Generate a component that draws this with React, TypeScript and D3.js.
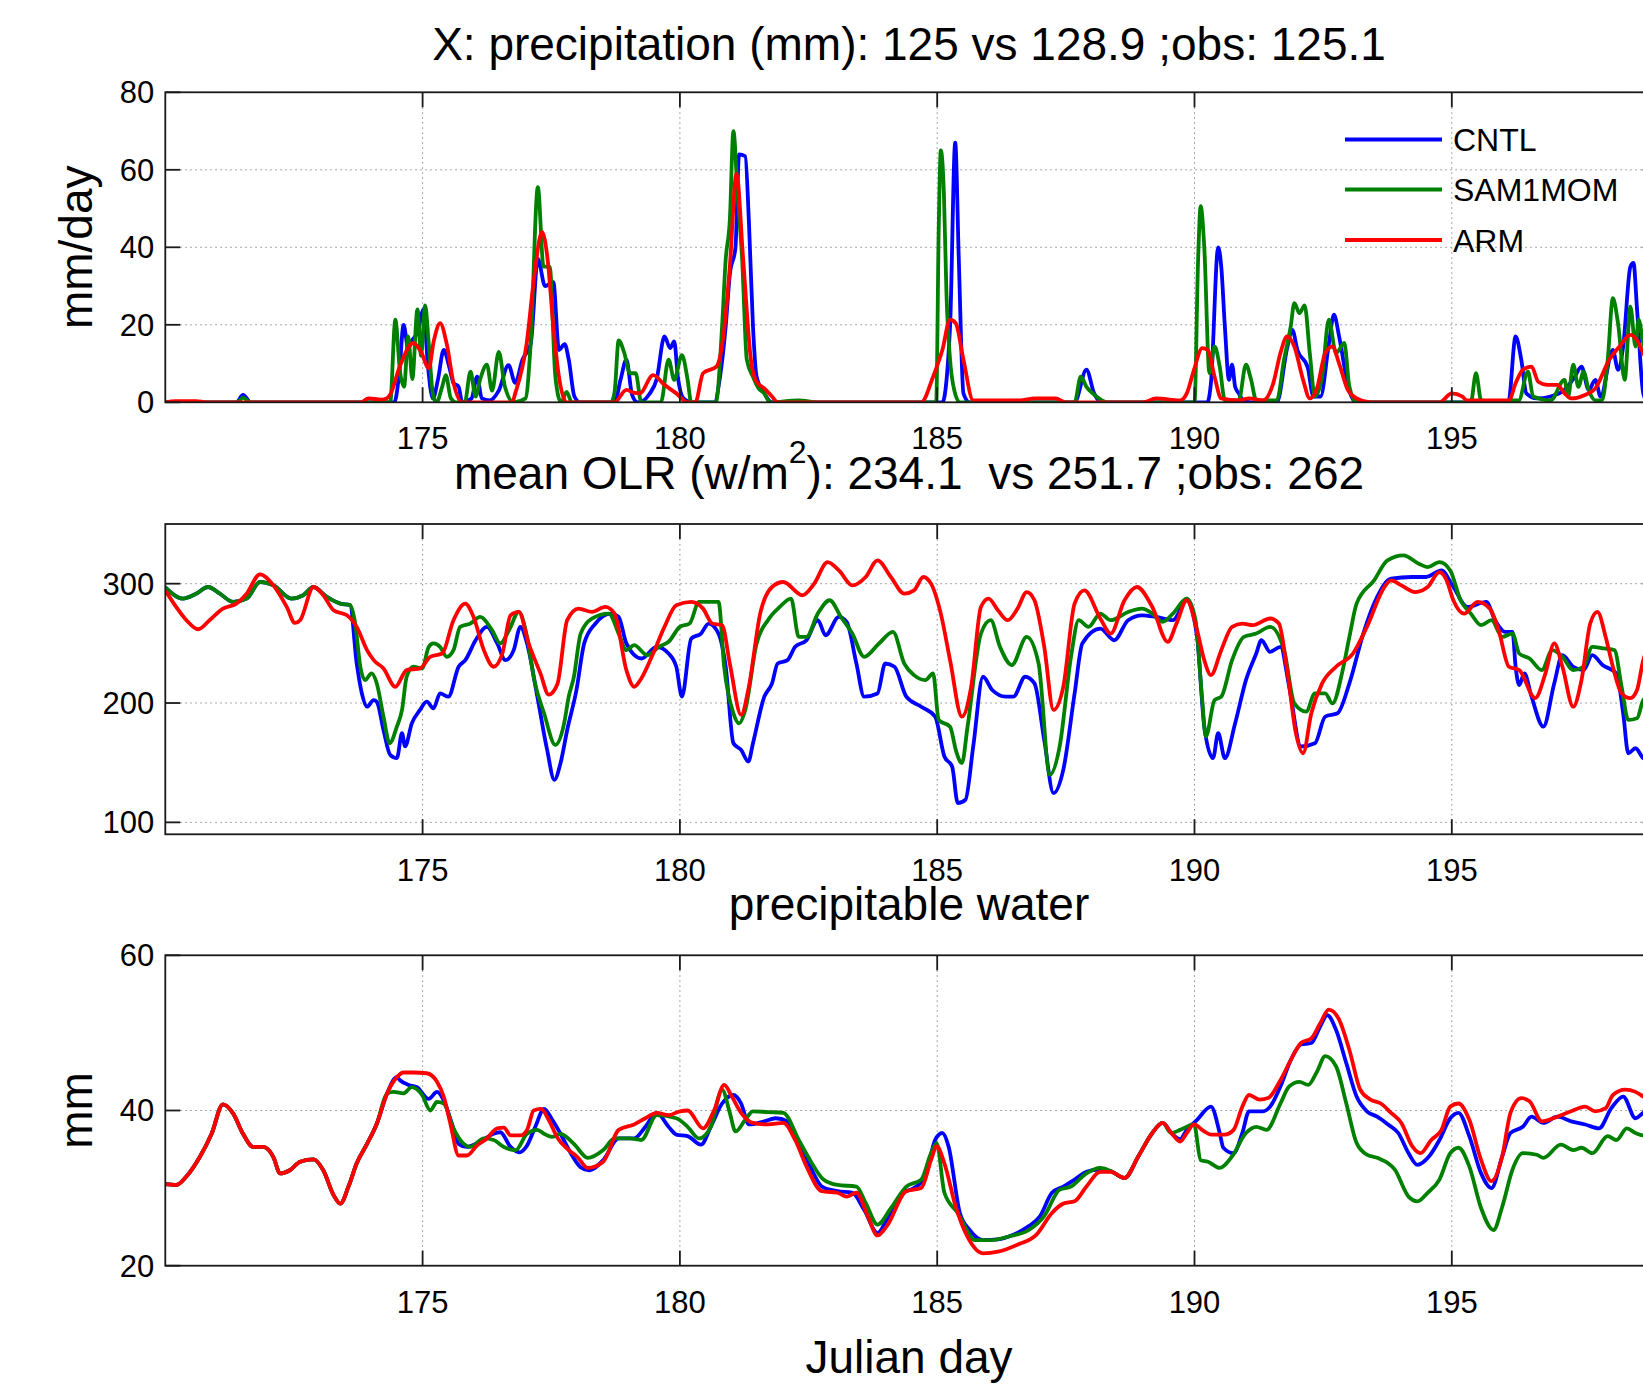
import * as d3 from 'd3';

type Pt = [number, number];

const xTicks = [175, 180, 185, 190, 195];
const precipTicks = [0, 20, 40, 60, 80];
const olrTicks = [100, 200, 300];
const pwTicks = [20, 40, 60];
const seriesNames = ['CNTL', 'SAM1MOM', 'ARM'];

// precipitation, mm/day
const precipCntl: Pt[] = [[170,0],[171.38,0],[171.51,1.9],[171.66,0],[174.45,0],[174.55,8],[174.63,20],[174.72,14],[174.8,16],[174.9,18],[175.02,24],[175.1,10],[175.2,1],[175.3,6],[175.41,13.5],[175.52,9],[175.6,5],[175.7,4],[175.77,0],[175.95,1],[176.06,6.6],[176.15,1],[176.3,0.5],[176.48,3],[176.67,9.6],[176.8,5],[176.94,11],[177.1,15],[177.24,37],[177.38,30],[177.54,31],[177.65,13.5],[177.76,15],[177.84,11],[177.95,1.5],[178.06,0],[178.73,0],[178.85,6],[178.96,11],[179.07,2],[179.18,0],[179.3,0.5],[179.4,2],[179.55,6],[179.7,17],[179.81,14],[179.89,15.7],[179.96,6.6],[180.07,1],[180.22,0],[180.67,0],[180.78,6.6],[180.89,19.6],[180.97,33],[181.08,40],[181.15,64],[181.27,63.5],[181.34,47],[181.42,19.6],[181.49,6.6],[181.64,2.3],[181.79,0],[185.1,0],[185.25,19.6],[185.35,67],[185.42,36.8],[185.51,2.3],[185.63,0],[187.67,0],[187.9,8.4],[188.05,2.3],[188.2,0],[190.25,0],[190.32,5],[190.46,40],[190.52,35],[190.59,19.6],[190.67,5.8],[190.73,9.7],[190.79,4],[190.86,2.3],[190.95,0.5],[191.1,0],[191.6,0],[191.8,14],[191.9,18.7],[192.0,13.5],[192.2,9],[192.31,1.5],[192.45,1.5],[192.61,15],[192.71,22.6],[192.81,17],[192.95,6.6],[193.05,1.5],[193.15,0],[196.1,0],[196.24,17],[196.35,11],[196.45,2.3],[196.65,1],[196.92,1.5],[197.19,3.2],[197.39,6.6],[197.52,9.2],[197.66,3.2],[197.79,5.8],[197.89,1.5],[198.13,13.5],[198.23,8.4],[198.33,14.4],[198.47,35],[198.53,36],[198.6,24],[198.72,2.3],[198.8,0]];
const precipSam: Pt[] = [[170,0],[171.4,0],[171.51,1.2],[171.65,0],[174.37,0],[174.47,21.3],[174.56,8],[174.64,4],[174.72,17],[174.8,6],[174.9,24],[174.97,12],[175.05,25],[175.12,15],[175.2,2],[175.27,0],[175.38,4],[175.45,7],[175.55,1],[175.65,0],[175.82,0],[175.93,7.9],[176.03,1.5],[176.12,6],[176.25,9.7],[176.35,3],[176.48,13],[176.6,4],[176.77,0],[177.0,1],[177.1,15],[177.24,55.5],[177.35,35],[177.47,35],[177.58,6.6],[177.69,0],[177.8,2.7],[177.9,0],[178.66,0],[178.73,2.6],[178.81,16],[178.92,12.7],[179.03,7.5],[179.14,7.5],[179.25,0],[179.63,0],[179.78,11],[179.89,5.8],[180.04,12.2],[180.15,5.8],[180.22,0],[180.7,0],[180.82,19.6],[180.89,36.8],[180.97,47],[181.04,70],[181.12,54],[181.21,36.8],[181.3,11],[181.42,6.6],[181.53,3.6],[181.64,2.3],[181.75,0],[182.3,0.5],[182.7,0],[184.98,0],[185.03,45],[185.07,65],[185.13,54],[185.18,28],[185.25,11],[185.33,3.2],[185.44,0],[187.67,0],[187.79,6.6],[187.9,4],[188.05,2],[188.2,0.5],[188.3,0],[190.0,0],[190.07,36.8],[190.12,50.6],[190.19,40],[190.29,7.5],[190.39,14.4],[190.49,9.2],[190.59,0.5],[190.86,0.5],[191.0,9.7],[191.1,5.8],[191.2,0.5],[191.6,0.5],[191.74,11],[191.87,19.6],[191.94,25.6],[192.04,23],[192.14,25],[192.24,12.7],[192.34,1.5],[192.48,6.6],[192.61,21.3],[192.75,12.7],[192.91,15.3],[193.01,4],[193.15,0],[195.37,0],[195.47,7.5],[195.57,0.5],[196.04,0],[196.14,0.5],[196.3,0.5],[196.48,7.9],[196.58,1.5],[196.92,0.5],[197.19,5.8],[197.26,1.5],[197.36,9.7],[197.46,4],[197.56,7.9],[197.66,3.2],[197.79,0.5],[197.92,0.5],[198.03,11],[198.13,26.9],[198.23,20.4],[198.36,5.8],[198.47,24.7],[198.57,14.4],[198.63,21.3],[198.72,15.3],[198.8,12]];
const precipArm: Pt[] = [[170,0],[170.2,0.3],[170.6,0.3],[170.8,0],[173.8,0],[173.95,1],[174.2,0.7],[174.3,1],[174.37,2],[174.55,9],[174.82,15.3],[174.97,13],[175.12,8.8],[175.22,16],[175.34,20.4],[175.47,15],[175.6,5],[175.77,0],[176.74,0],[176.8,2.3],[177.02,15],[177.17,32.5],[177.32,44],[177.43,36.8],[177.54,19.6],[177.65,6.6],[177.8,0],[178.73,0],[178.96,3.2],[179.1,2.5],[179.22,2.3],[179.48,7],[179.7,4.5],[179.93,2.3],[180.15,0],[180.3,0],[180.45,7.5],[180.71,9.2],[180.86,18.7],[180.97,35],[181.1,59],[181.23,36.8],[181.38,11],[181.49,5.3],[181.64,3.6],[181.79,1.5],[181.9,0],[184.69,0],[184.92,6.6],[185.1,13.5],[185.25,21.3],[185.36,20.4],[185.51,11],[185.7,0.5],[186.6,0.5],[186.9,1],[187.3,1],[187.5,0],[189.0,0],[189.25,1],[189.72,0.5],[189.85,2.3],[189.99,8.4],[190.15,14],[190.26,13.5],[190.39,6.6],[190.52,1],[190.86,0.5],[191.06,1],[191.33,0.5],[191.53,4.9],[191.67,12.7],[191.8,17],[191.94,14.4],[192.11,5.8],[192.24,1],[192.38,3.6],[192.54,12.7],[192.68,14.4],[192.81,10],[192.98,3.2],[193.15,1],[193.42,0],[194.76,0],[195.0,2.3],[195.2,1.5],[195.3,0.5],[196.11,0.5],[196.24,4.9],[196.38,8.4],[196.55,9.2],[196.68,5.3],[196.85,4.5],[197.05,4.5],[197.19,2.3],[197.32,1],[197.59,1.9],[197.79,3.6],[198.06,11],[198.26,14.4],[198.47,17.4],[198.6,16],[198.72,12.7],[198.8,11]];

// OLR, w/m2 (both model runs start from the same state)
const olrModelStart: Pt[] = [[170,297],[170.34,287.5],[170.6,291.6],[170.83,297.2],[171.06,291.6],[171.32,284.7],[171.58,287.5],[171.84,301.4],[172.1,298.6],[172.45,287.5],[172.68,290.3],[172.88,297.2],[173.14,288.9],[173.4,283.3],[173.59,282]];
const olrCntl: Pt[] = [...olrModelStart,[173.72,233.1],[173.82,208],[173.92,196.9],[174.05,202.5],[174.11,201.1],[174.24,177.4],[174.37,156.5],[174.5,153.8],[174.6,174.7],[174.66,163.6],[174.79,183],[174.95,194.2],[175.08,201.1],[175.21,195.5],[175.34,208],[175.5,205.3],[175.7,230.4],[175.83,235.9],[176.03,252.6],[176.25,263.8],[176.45,249.9],[176.61,235.9],[176.77,244.3],[176.9,263.8],[177.03,249.9],[177.23,205.3],[177.42,160.7],[177.56,135.6],[177.68,149.6],[177.81,177.4],[177.99,210.9],[178.14,249.9],[178.36,266.6],[178.66,274.9],[178.81,272.1],[178.96,249.9],[179.25,237.3],[179.55,247.1],[179.78,241.5],[179.93,230.4],[180.04,205.3],[180.22,254],[180.41,258.2],[180.56,266.6],[180.75,258.2],[180.89,230.4],[181.04,166.3],[181.19,160.7],[181.33,151],[181.42,166.3],[181.64,205.3],[181.79,216.4],[181.9,233.1],[182.09,235.9],[182.24,247.1],[182.46,252.6],[182.68,269.4],[182.83,256.8],[183.09,272.1],[183.24,268],[183.43,233.1],[183.58,205.3],[183.84,208],[183.99,233.1],[184.17,230.4],[184.4,205.3],[184.69,196.9],[184.96,188.6],[185.14,155.2],[185.29,146.8],[185.4,116.2],[185.55,119],[185.7,163.6],[185.89,222],[186.07,210.9],[186.33,205.3],[186.48,205.3],[186.71,222],[186.89,216.4],[187.08,169.1],[187.26,124.5],[187.45,144],[187.67,208],[187.82,249.9],[188.17,262.4],[188.44,252.6],[188.71,269.4],[188.98,273.5],[189.25,272.1],[189.58,269.4],[189.85,286.1],[190.05,255.4],[190.19,180.2],[190.36,153.8],[190.46,174.7],[190.59,153.8],[190.79,183],[191.0,219.2],[191.2,241.5],[191.3,252.6],[191.47,242.9],[191.67,247.1],[191.84,213.6],[192.07,163.6],[192.34,166.3],[192.54,188.6],[192.78,191.4],[193.01,216.4],[193.28,258.2],[193.55,288.9],[193.82,304.2],[194.23,305.6],[194.5,305.6],[194.8,311.1],[195.03,297.2],[195.3,280.5],[195.67,284.7],[195.84,269.4],[196.04,259.6],[196.18,259.6],[196.24,230.4],[196.31,215],[196.41,224.8],[196.55,205.3],[196.78,180.2],[196.99,216.4],[197.15,240.1],[197.36,230.4],[197.56,227.6],[197.73,240.1],[197.93,231.8],[198.2,224.8],[198.33,191.4],[198.43,157.9],[198.57,162.1],[198.72,153.8],[198.8,152]];
const olrSam: Pt[] = [...olrModelStart,[173.69,266.6],[173.79,230.4],[173.88,219.2],[174.01,224.8],[174.11,216.4],[174.24,188.6],[174.36,166.3],[174.5,180.2],[174.6,194.2],[174.69,222],[174.82,230.4],[174.99,229],[175.12,247.1],[175.21,249.9],[175.34,247.1],[175.47,238.7],[175.6,244.3],[175.73,263.8],[175.93,266.6],[176.12,272.1],[176.35,261],[176.51,249.9],[176.68,261],[176.87,276.3],[177.03,255.4],[177.17,219.2],[177.36,191.4],[177.58,164.9],[177.75,183],[177.84,205.3],[177.94,222],[178.07,258],[178.29,270.8],[178.62,274.9],[178.81,258.2],[178.96,244.3],[179.11,248.5],[179.37,240.1],[179.59,247.1],[179.78,251.3],[180.0,263.8],[180.19,266.6],[180.37,284.7],[180.75,284.7],[180.86,230.4],[181.04,191.4],[181.15,183],[181.27,194.2],[181.49,249.9],[181.71,269.4],[181.94,280.5],[182.16,287.5],[182.31,255.4],[182.46,255.4],[182.68,274.9],[182.91,286.1],[183.13,272.1],[183.35,258.2],[183.58,238.7],[183.87,249.9],[184.14,259.6],[184.36,233.1],[184.55,223.4],[184.77,219.2],[184.92,224.8],[185.03,185.8],[185.25,180.2],[185.37,159.3],[185.48,149.6],[185.59,180.2],[185.85,258.2],[186.04,269.4],[186.22,247.1],[186.45,231.8],[186.74,255.4],[186.97,233.1],[187.19,139.8],[187.38,163.6],[187.6,238.7],[187.75,269.4],[187.94,263.8],[188.17,274.9],[188.37,269.4],[188.71,276.3],[188.98,279.1],[189.18,274.9],[189.38,268],[189.58,274.9],[189.85,287.5],[190.02,269.4],[190.15,202.5],[190.22,171.9],[190.39,202.5],[190.52,205.3],[190.73,235.9],[190.96,255.4],[191.2,258.2],[191.47,263.8],[191.74,244.3],[191.94,199.7],[192.17,192.8],[192.34,208],[192.54,208],[192.68,199.7],[192.88,227.6],[193.01,255.4],[193.15,283.3],[193.49,302.8],[193.75,319.5],[194.06,323.7],[194.36,316.7],[194.53,313.9],[194.76,318.1],[194.97,311.1],[195.17,286.1],[195.37,274.9],[195.57,265.2],[195.77,269.4],[195.98,255.4],[196.18,258.2],[196.31,241.5],[196.51,237.3],[196.75,227.6],[196.95,244.3],[197.15,238.7],[197.36,227.6],[197.56,230.4],[197.73,247.1],[197.96,245.7],[198.16,244.3],[198.3,213.6],[198.43,185.8],[198.6,187.2],[198.72,202.5],[198.8,205]];
const olrArm: Pt[] = [[170,294.4],[170.21,280.5],[170.41,269.4],[170.64,261.8],[170.86,269.4],[171.12,279.1],[171.38,283.3],[171.58,291.6],[171.84,307.8],[172.1,298.6],[172.36,280.5],[172.52,267.1],[172.62,269.4],[172.88,297.2],[173.07,290.3],[173.27,277.7],[173.53,273.5],[173.72,263.8],[173.92,244.3],[174.05,235.9],[174.24,229],[174.47,213.6],[174.69,227.6],[174.95,229],[175.15,238.7],[175.38,241.5],[175.6,269.4],[175.83,283.3],[175.99,272.1],[176.19,244.3],[176.38,230.4],[176.55,241.5],[176.71,273.5],[176.87,276.3],[177.06,250],[177.29,224.8],[177.45,207],[177.62,216],[177.81,269.4],[178.03,279.1],[178.29,276.3],[178.55,280.5],[178.73,274.9],[178.96,227.6],[179.11,213.6],[179.25,220.6],[179.48,241.5],[179.7,263.8],[179.93,281.9],[180.22,284.7],[180.45,279.1],[180.63,266.6],[180.82,265.2],[180.97,233.1],[181.19,190],[181.34,213.6],[181.56,274.9],[181.79,297.2],[182.01,301.4],[182.38,290.3],[182.61,300],[182.87,318.1],[183.09,311.1],[183.35,298.6],[183.61,305.6],[183.84,319.5],[184.1,305.6],[184.36,291.6],[184.55,294.4],[184.73,305.6],[184.88,300],[185.07,274.9],[185.25,235.9],[185.48,188.6],[185.66,213.6],[185.85,280.5],[186.0,287.5],[186.18,277.7],[186.37,269.4],[186.56,279.1],[186.74,293],[186.89,286.1],[187.08,247.1],[187.26,194.2],[187.45,213.6],[187.67,283.3],[187.86,294.4],[188.17,270.8],[188.37,258.2],[188.64,286.1],[188.88,297.2],[189.18,280.5],[189.48,251.3],[189.65,266.6],[189.85,286.1],[190.05,261],[190.19,235.9],[190.32,223.4],[190.52,244.3],[190.73,263.8],[190.93,266.6],[191.13,265.2],[191.47,270.8],[191.64,266.6],[191.8,227.6],[191.97,174.7],[192.11,157.9],[192.27,191.4],[192.48,216.4],[192.75,230.4],[193.08,241.5],[193.35,263.8],[193.69,297.2],[193.82,302.8],[194.02,298.6],[194.29,293],[194.53,297.2],[194.76,309.7],[194.9,302.8],[195.03,286.1],[195.24,274.9],[195.5,284.7],[195.74,279.1],[195.91,261],[196.11,230.4],[196.31,227.6],[196.62,204.1],[196.82,224.8],[196.99,249.9],[197.15,230.4],[197.36,196.9],[197.52,219.2],[197.69,266.6],[197.83,276.3],[197.99,255.4],[198.13,230.4],[198.3,208],[198.47,204.1],[198.6,210.9],[198.72,235.9],[198.8,245]];

// precipitable water, mm (all three agree for the first days)
const pwStart: Pt[] = [[170,30.5],[170.21,30.4],[170.41,31.5],[170.67,34],[170.9,37],[171.12,40.8],[171.32,39.6],[171.51,37],[171.71,35.3],[171.9,35.3],[172.1,34],[172.23,31.9],[172.42,32.3],[172.62,33.4],[172.88,33.7],[173.07,32.3],[173.27,29.1],[173.4,28],[173.56,30.2],[173.72,33.2],[173.92,35.7],[174.11,38.3],[174.31,42.2]];
const pwCntl: Pt[] = [...pwStart,[174.5,44.3],[174.56,43.9],[174.73,43.3],[174.89,43],[175.12,41.5],[175.28,42.4],[175.41,41.3],[175.57,38.3],[175.7,35.7],[175.86,35.3],[176.12,36],[176.38,37],[176.51,37.2],[176.71,35.3],[176.88,34.6],[177.03,35.5],[177.19,37.9],[177.36,40.2],[177.52,38.8],[177.68,37],[177.88,34.5],[178.07,32.7],[178.23,32.3],[178.51,33.6],[178.81,36.4],[179.11,36.4],[179.33,37.9],[179.55,39.7],[179.78,37.9],[179.93,36.9],[180.15,36.7],[180.41,35.6],[180.6,37.9],[180.82,40.9],[181.04,42],[181.19,40.9],[181.34,38.2],[181.64,38.6],[181.86,39],[182.09,38.6],[182.31,35.8],[182.53,32.8],[182.76,30.2],[183.06,29.6],[183.35,29.4],[183.58,27.2],[183.84,24.2],[184.02,25.9],[184.32,29.4],[184.55,30],[184.77,31.5],[184.96,36.2],[185.1,37.1],[185.22,35.4],[185.44,26.8],[185.63,24.6],[185.89,23.3],[186.18,23.4],[186.48,24],[186.78,25.1],[187.0,26.4],[187.23,29.4],[187.45,30.2],[187.67,31.1],[187.9,32.1],[188.17,32.4],[188.37,32.2],[188.64,31.3],[188.91,34.1],[189.18,37.1],[189.38,38.4],[189.55,37.1],[189.72,36.3],[189.85,37.5],[190.05,38.8],[190.32,40.5],[190.49,37.1],[190.56,35.2],[190.76,34.5],[190.93,37.1],[191.06,39.9],[191.33,39.9],[191.47,40.5],[191.67,43.1],[191.87,46.5],[192.07,48.5],[192.27,48.7],[192.44,50.8],[192.58,52.3],[192.75,50.4],[192.95,46.1],[193.15,41.8],[193.35,39.9],[193.55,39.2],[193.76,38.2],[193.96,37.1],[194.16,34.5],[194.33,33],[194.56,34.1],[194.76,36.2],[194.97,39],[195.13,39.7],[195.34,36.7],[195.57,31.9],[195.77,30],[195.98,34.1],[196.14,37.1],[196.38,37.9],[196.55,39.2],[196.78,38.4],[197.05,39.2],[197.32,38.6],[197.59,38.2],[197.86,37.7],[198.1,40.3],[198.33,41.8],[198.57,39],[198.72,39.7],[198.8,40]];
const pwSam: Pt[] = [...pwStart,[174.44,42.4],[174.63,42.2],[174.79,43],[174.99,42],[175.15,40],[175.28,41.1],[175.41,40.9],[175.6,37.7],[175.8,35.7],[175.93,35.3],[176.19,36.4],[176.38,36.2],[176.58,35.3],[176.81,34.9],[177.03,37],[177.23,37.5],[177.36,37],[177.52,36.6],[177.68,37],[177.94,35.7],[178.21,33.9],[178.51,34.9],[178.73,36.4],[179.03,36.4],[179.25,36.2],[179.55,39.4],[179.93,39],[180.15,37.9],[180.37,36.4],[180.6,37.9],[180.82,42.7],[180.97,39.7],[181.08,37.3],[181.27,38.8],[181.42,39.9],[181.71,39.8],[182.01,39.7],[182.31,36.2],[182.53,33.6],[182.79,31.1],[183.06,30.4],[183.43,30.2],[183.61,28.1],[183.84,25.3],[184.1,27.4],[184.4,30.2],[184.69,31.1],[184.88,34.5],[184.99,35.8],[185.14,29.4],[185.4,26.8],[185.74,23.3],[186.04,23.3],[186.41,23.8],[186.78,24.6],[187.08,26.4],[187.38,29.8],[187.6,30.2],[187.9,31.9],[188.17,32.6],[188.37,32.2],[188.64,31.3],[188.91,34.1],[189.18,37.1],[189.38,38.4],[189.55,37.1],[189.72,37.5],[189.99,38.2],[190.12,33.6],[190.26,33.4],[190.49,32.6],[190.73,34.1],[191.0,37.1],[191.2,37.9],[191.4,37.5],[191.67,40.9],[191.84,43.1],[192.04,43.7],[192.21,43.3],[192.38,45],[192.54,47],[192.75,45.7],[192.95,40.9],[193.15,35.8],[193.35,34.3],[193.55,33.9],[193.89,32.4],[194.16,28.9],[194.33,28.3],[194.53,29.4],[194.76,31.1],[194.97,34.5],[195.13,35.2],[195.34,32.8],[195.57,27.4],[195.81,24.6],[195.98,27.6],[196.18,32.4],[196.38,34.5],[196.65,34.3],[196.78,33.9],[197.12,35.6],[197.36,34.9],[197.52,35.2],[197.73,34.5],[198.03,36.7],[198.2,36.2],[198.4,37.7],[198.57,37.1],[198.72,36.8],[198.8,36.8]];
const pwArm: Pt[] = [...pwStart,[174.5,44.3],[174.63,44.9],[174.82,44.9],[175.08,44.8],[175.28,43.7],[175.41,41.8],[175.54,38.3],[175.7,34.2],[175.86,34.2],[176.06,35.5],[176.25,36.4],[176.45,37.7],[176.58,37.8],[176.71,36.8],[176.9,36.8],[177.03,37.5],[177.16,40],[177.3,40.2],[177.45,38.8],[177.62,36.5],[177.84,34.9],[178.01,34],[178.21,32.6],[178.51,33.4],[178.81,37.5],[179.11,38.2],[179.33,39],[179.55,39.7],[179.78,39.4],[180.0,39.9],[180.15,40],[180.45,37.7],[180.67,40.1],[180.86,43.3],[181.01,41.8],[181.19,39.7],[181.42,38.4],[181.71,38.2],[182.01,38.4],[182.24,36.2],[182.46,32.8],[182.76,29.6],[183.06,29.4],[183.24,28.9],[183.43,29.4],[183.65,26.4],[183.84,23.9],[184.02,25.1],[184.4,29.6],[184.69,30],[184.88,33.6],[184.99,35.4],[185.14,33.2],[185.36,27.6],[185.59,23.7],[185.89,21.6],[186.18,21.8],[186.56,22.7],[186.93,24],[187.23,26.8],[187.45,28],[187.67,28.3],[187.9,30.2],[188.17,32.1],[188.37,32.1],[188.64,31.3],[188.91,34.1],[189.18,37.1],[189.38,38.4],[189.55,37.1],[189.72,36],[189.85,37.1],[189.99,38.2],[190.19,37.3],[190.32,36.9],[190.59,36.9],[190.76,37.5],[190.93,40.5],[191.06,42],[191.27,41.4],[191.43,41.6],[191.67,43.9],[191.87,46.5],[192.07,48.7],[192.27,49.3],[192.44,51.2],[192.61,53],[192.81,51.7],[193.01,47.8],[193.22,42.7],[193.42,41.4],[193.62,40.9],[193.82,39.7],[194.02,38.4],[194.23,35.4],[194.39,34.5],[194.6,36.2],[194.8,37.5],[194.97,40.5],[195.13,40.9],[195.34,38.8],[195.57,33.6],[195.77,30.9],[195.98,34.1],[196.14,39.7],[196.35,41.6],[196.51,41.2],[196.75,38.6],[197.05,39.2],[197.32,39.9],[197.59,40.5],[197.79,39.9],[197.99,40.3],[198.13,42],[198.37,42.7],[198.57,42.4],[198.72,41.8],[198.8,41.5]];

const [W, H] = [1643, 1395];
const FONT = "'Liberation Sans', Arial, Helvetica, sans-serif";
const colors = ['#0000ff', '#008000', '#ff0000'];
const TICK = 15;
const CX = 909;

const x = d3.scaleLinear().domain([170, 199]).range([165.3, 165.3 + 29 * 51.46]);
const [X0, X1] = x.range();

function Panel({id, top, bottom, domain, ticks, series}) {
    const y = d3.scaleLinear().domain(domain).range([bottom, top]);
    const line = d3.line<Pt>()
        .x(d => x(d[0]))
        .y(d => y(d[1]))
        .curve(d3.curveMonotoneX);

    return (
        <g>
            <clipPath id={id}>
                <rect x={X0} y={top} width={X1 - X0} height={bottom - top} />
            </clipPath>
            {/* dotted grid */}
            <g stroke="#8c8c8c" strokeWidth={1} strokeDasharray="1.5,3.5">
                {xTicks.map(t => <line key={'gx' + t} x1={x(t)} x2={x(t)} y1={top} y2={bottom} />)}
                {ticks.map(t => <line key={'gy' + t} x1={X0} x2={X1} y1={y(t)} y2={y(t)} />)}
            </g>
            <g clipPath={`url(#${id})`} fill="none" strokeWidth={3.8} strokeLinejoin="round">
                {series.map((s, i) => <path key={i} d={line(s)} stroke={colors[i]} />)}
            </g>
            {/* box and inward ticks */}
            <g stroke="#1a1a1a" strokeWidth={1.8} fill="none">
                <rect x={X0} y={top} width={X1 - X0} height={bottom - top} />
                {xTicks.map(t => (
                    <g key={'tx' + t}>
                        <line x1={x(t)} x2={x(t)} y1={bottom} y2={bottom - TICK} />
                        <line x1={x(t)} x2={x(t)} y1={top} y2={top + TICK} />
                    </g>
                ))}
                {ticks.map(t => (
                    <g key={'ty' + t}>
                        <line x1={X0} x2={X0 + TICK} y1={y(t)} y2={y(t)} />
                        <line x1={X1} x2={X1 - TICK} y1={y(t)} y2={y(t)} />
                    </g>
                ))}
            </g>
            <g fontFamily={FONT} fontSize={31} fill="#000">
                {xTicks.map(t => (
                    <text key={'lx' + t} x={x(t)} y={bottom + 47} textAnchor="middle">{t}</text>
                ))}
                {ticks.map(t => (
                    <text key={'ly' + t} x={X0 - 11} y={y(t)} dy="0.35em" textAnchor="end">{t}</text>
                ))}
            </g>
        </g>
    );
}

export default function App() {
    const legendY = [139.5, 189.5, 240];
    return (
        <div style={{position: 'absolute', left: 0, top: 0, width: W, height: H, overflow: 'hidden', background: '#fff'}}>
            <svg width={W} height={H} style={{display: 'block'}}>
                <rect width={W} height={H} fill="#fff" />
                <Panel id="clipP" top={92.3} bottom={402.3} domain={[0, 80]} ticks={precipTicks}
                       series={[precipCntl, precipSam, precipArm]} />
                <Panel id="clipO" top={524} bottom={834.3} domain={[90, 350]} ticks={olrTicks}
                       series={[olrCntl, olrSam, olrArm]} />
                <Panel id="clipW" top={955.3} bottom={1265.7} domain={[20, 60]} ticks={pwTicks}
                       series={[pwCntl, pwSam, pwArm]} />

                <g fontFamily={FONT} fontSize={46} fill="#000" textAnchor="middle">
                    <text x={CX} y={60}>X: precipitation (mm): 125 vs 128.9 ;obs: 125.1</text>
                    <text x={CX} y={489} xmlSpace="preserve" style={{whiteSpace: 'pre'}}>
                        {'mean OLR (w/m'}<tspan dy={-26} fontSize={32}>2</tspan><tspan dy={26}>{'): 234.1\u00a0\u00a0vs 251.7 ;obs: 262'}</tspan>
                    </text>
                    <text x={CX} y={920}>precipitable water</text>
                    <text x={CX} y={1373}>Julian day</text>
                    <text transform={`translate(92, ${(92.3 + 402.3) / 2}) rotate(-90)`}>mm/day</text>
                    <text transform={`translate(92, ${(955.3 + 1265.7) / 2}) rotate(-90)`}>mm</text>
                </g>

                <g fontFamily={FONT} fontSize={32}>
                    {seriesNames.map((name, i) => (
                        <g key={name}>
                            <line x1={1345} x2={1442} y1={legendY[i]} y2={legendY[i]} stroke={colors[i]} strokeWidth={3.8} />
                            <text x={1453} y={legendY[i]} dy="0.36em">{name}</text>
                        </g>
                    ))}
                </g>
            </svg>
        </div>
    );
}
